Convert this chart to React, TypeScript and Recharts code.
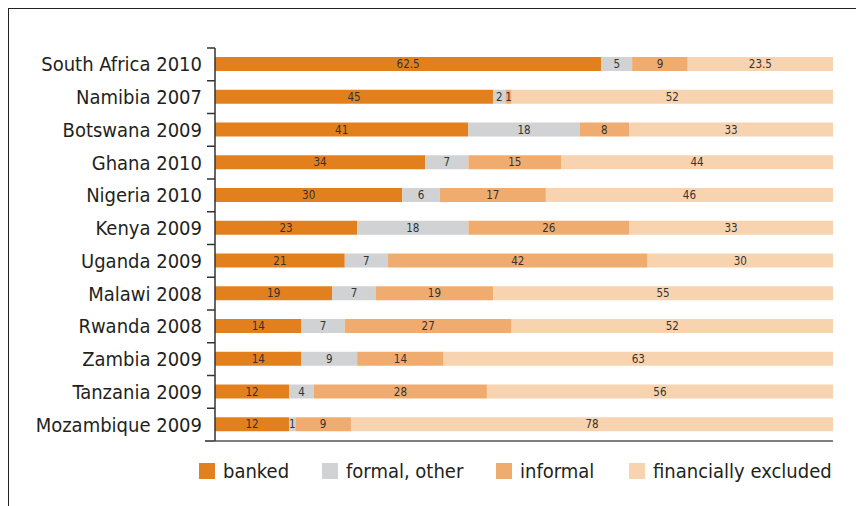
import React from "react";
import { Bar, BarChart, LabelList, XAxis, YAxis } from "recharts";

const countries = [
  "South Africa 2010",
  "Namibia 2007",
  "Botswana 2009",
  "Ghana 2010",
  "Nigeria 2010",
  "Kenya 2009",
  "Uganda 2009",
  "Malawi 2008",
  "Rwanda 2008",
  "Zambia 2009",
  "Tanzania 2009",
  "Mozambique 2009",
];
const banked = [62.5, 45, 41, 34, 30, 23, 21, 19, 14, 14, 12, 12];
const formalOther = [5, 2, 18, 7, 6, 18, 7, 7, 7, 9, 4, 1];
const informal = [9, 1, 8, 15, 17, 26, 42, 19, 27, 14, 28, 9];
const excluded = [23.5, 52, 33, 44, 46, 33, 30, 55, 52, 63, 56, 78];

const series = [
  { key: "banked", label: "banked", color: "#E3801E" },
  { key: "formal", label: "formal, other", color: "#D1D2D4" },
  { key: "informal", label: "informal", color: "#F0AC6E" },
  { key: "excluded", label: "financially excluded", color: "#F8D3AF" },
];

const data = countries.map((name, i) => ({
  name,
  banked: banked[i],
  formal: formalOther[i],
  informal: informal[i],
  excluded: excluded[i],
}));

const FONT = "'DejaVu Sans Condensed', 'Liberation Sans Narrow', sans-serif";
const W = 855;
const H = 497;
const M = { top: 39, right: 31, bottom: 65, left: 0 };
const AXIS_X = 206;
const BAND = (H - M.top - M.bottom) / countries.length;

// category labels plus the little boundary ticks between rows
const CountryTick = (props: any) => {
  const { y, payload, index } = props;
  const top = y - BAND / 2;
  return (
    <g>
      <line x1={AXIS_X - 8} x2={AXIS_X} y1={top} y2={top} stroke="#333" strokeWidth={1.5} />
      {index === countries.length - 1 && (
        <line x1={AXIS_X - 10} x2={AXIS_X} y1={top + BAND} y2={top + BAND} stroke="#555" strokeWidth={1.5} />
      )}
      <text
        x={AXIS_X - 13}
        y={y}
        dy={7}
        textAnchor="end"
        fontFamily={FONT}
        fontSize={20}
        fill="#231F20"
      >
        {payload.value}
      </text>
    </g>
  );
};

const legendLefts = [190, 313, 487, 620];

export default function App() {
  return (
    <div
      style={{
        position: "relative",
        marginLeft: -1,
        marginTop: -1,
        width: 857,
        height: 499,
        borderTop: "2px solid #222",
        borderLeft: "2px solid #222",
        background: "#fff",
      }}
    >
      <BarChart
        width={W}
        height={H}
        data={data}
        layout="vertical"
        margin={M}
        barSize={14}
        stackOffset="expand"
      >
        <XAxis type="number" domain={[0, 1]} hide />
        <YAxis
          type="category"
          dataKey="name"
          width={AXIS_X}
          axisLine={{ stroke: "#333", strokeWidth: 1.5 }}
          tickLine={false}
          tick={<CountryTick />}
          interval={0}
        />
        <line x1={AXIS_X - 10} x2={W - M.right} y1={H - M.bottom} y2={H - M.bottom} stroke="#555" strokeWidth={1.5} />
        {series.map((s) => (
          <Bar key={s.key} dataKey={s.key} stackId="a" fill={s.color} isAnimationActive={false}>
            <LabelList
              dataKey={s.key}
              position="center"
              fill="#333"
              fontSize={11.5}
              fontFamily={FONT}
            />
          </Bar>
        ))}
      </BarChart>
      <div style={{ position: "absolute", left: 0, top: 450, width: W, height: 24, fontFamily: FONT }}>
        {series.map((s, i) => (
          <div
            key={s.key}
            style={{
              position: "absolute",
              left: legendLefts[i],
              top: 0,
              display: "flex",
              alignItems: "center",
              whiteSpace: "nowrap",
            }}
          >
            <span style={{ width: 16, height: 16, background: s.color, display: "inline-block", marginRight: 8 }} />
            <span style={{ fontSize: 20, color: "#231F20" }}>{s.label}</span>
          </div>
        ))}
      </div>
    </div>
  );
}
